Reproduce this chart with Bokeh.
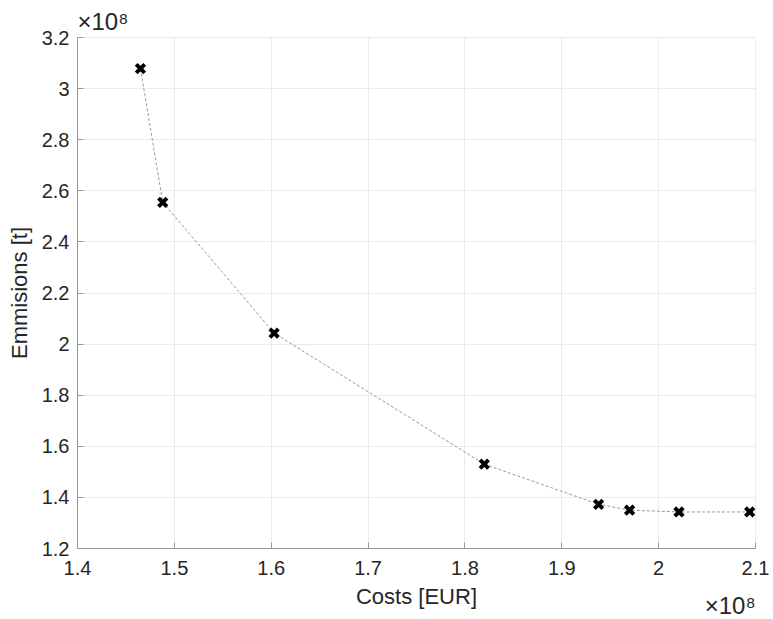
from bokeh.plotting import figure
from bokeh.models import Range1d, FixedTicker, Title
from bokeh.embed import file_html
from bokeh.resources import INLINE

# Data (in units of 1e8)
costs = [1.465, 1.488, 1.603, 1.820, 1.938, 1.970, 2.021, 2.094]
emissions = [3.078, 2.555, 2.043, 1.530, 1.373, 1.350, 1.343, 1.343]

x_ticks = [1.4, 1.5, 1.6, 1.7, 1.8, 1.9, 2.0, 2.1]
x_tick_labels = ["1.4", "1.5", "1.6", "1.7", "1.8", "1.9", "2", "2.1"]
y_ticks = [1.2, 1.4, 1.6, 1.8, 2.0, 2.2, 2.4, 2.6, 2.8, 3.0, 3.2]
y_tick_labels = ["1.2", "1.4", "1.6", "1.8", "2", "2.2", "2.4", "2.6", "2.8", "3", "3.2"]
exponent_text = "×10⁸"

FONT = "Liberation Sans"
TXT = "#262626"
GRID = "#ebebeb"

p = figure(width=773, height=619, output_backend="svg", toolbar_location=None,
           x_range=Range1d(1.4, 2.1), y_range=Range1d(1.2, 3.2),
           min_border_left=77, min_border_right=18, min_border_top=37, min_border_bottom=71)

p.line(costs, emissions, line_color="#999999", line_width=1, line_dash="3 2")
p.scatter(costs, emissions, marker="x", size=12, line_color="black", line_width=4)

p.xaxis.ticker = FixedTicker(ticks=x_ticks)
p.yaxis.ticker = FixedTicker(ticks=y_ticks)
p.xaxis.major_label_overrides = {t: l for t, l in zip(x_ticks, x_tick_labels)}
p.yaxis.major_label_overrides = {t: l for t, l in zip(y_ticks, y_tick_labels)}

for ax in (p.xaxis, p.yaxis):
    ax.axis_line_color = "#999999"
    ax.axis_line_width = 1
    ax.major_tick_in = 6
    ax.major_tick_out = 0
    ax.major_tick_line_color = "#999999"
    ax.minor_tick_line_color = None
    ax.major_label_text_font = FONT
    ax.major_label_text_font_size = "20px"
    ax.major_label_text_color = TXT
    ax.axis_label_text_font = FONT
    ax.axis_label_text_font_size = "22px"
    ax.axis_label_text_color = TXT
    ax.axis_label_text_font_style = "normal"

p.xaxis.axis_label = "Costs [EUR]"
p.yaxis.axis_label = "Emmisions [t]"
p.xaxis.major_label_standoff = 12
p.yaxis.major_label_standoff = 8
p.xaxis.axis_label_standoff = 6
p.yaxis.axis_label_standoff = 7

p.xgrid.grid_line_color = GRID
p.ygrid.grid_line_color = GRID
p.outline_line_color = GRID
p.background_fill_color = "white"
p.border_fill_color = "white"

# x10^8 exponent labels
p.add_layout(Title(text=exponent_text, align="left", standoff=5, vertical_align="bottom",
                   text_font=FONT, text_font_size="24px", text_color=TXT,
                   text_font_style="normal"), "above")
p.add_layout(Title(text=exponent_text, align="right", standoff=-40, vertical_align="top",
                   text_font=FONT, text_font_size="24px", text_color=TXT,
                   text_font_style="normal"), "below")

open("out.html", "w").write(file_html(p, INLINE))
